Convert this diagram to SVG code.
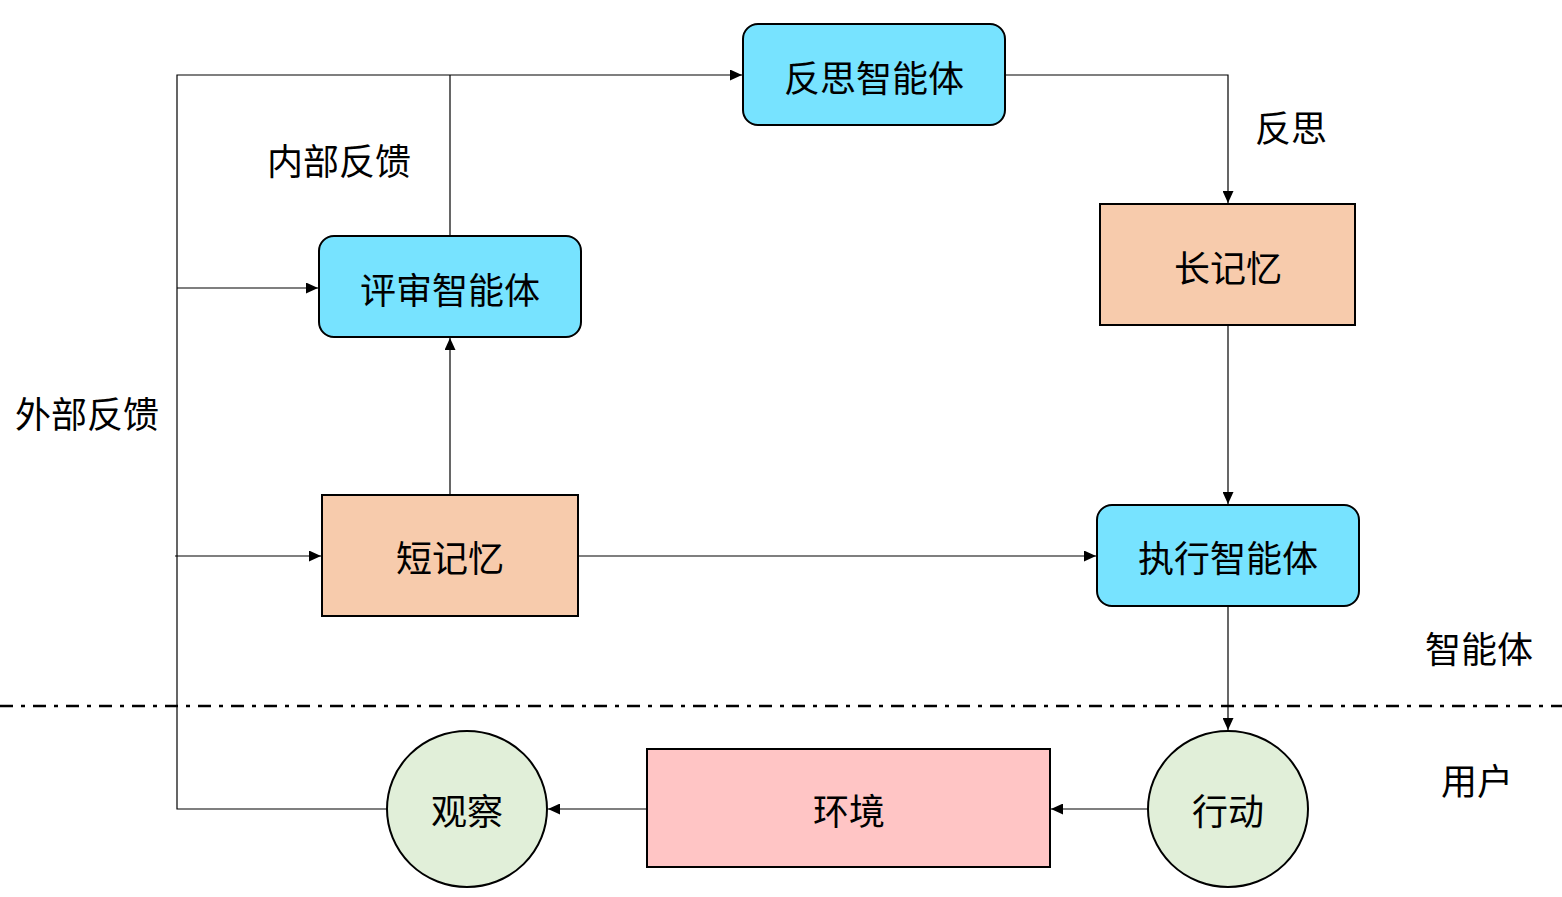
<svg xmlns="http://www.w3.org/2000/svg" width="1562" height="897" viewBox="0 0 1562 897">
<style>
text{font-family:"Noto Sans CJK SC","Noto Sans",sans-serif;font-size:36px;fill:#000;text-anchor:middle;dominant-baseline:central}
.agent{fill:#77e3ff;stroke:#000;stroke-width:2}
.mem{fill:#f7cbac;stroke:#000;stroke-width:2}
.env{fill:#ffc5c5;stroke:#000;stroke-width:2}
.circ{fill:#e1efd9;stroke:#000;stroke-width:2}
.ln{fill:none;stroke:#000;stroke-width:1.2}
</style>
<defs>
<marker id="arr" markerUnits="userSpaceOnUse" markerWidth="13" markerHeight="11" refX="12" refY="5.5" orient="auto">
<path d="M0,0 L12,5.5 L0,11 Z" fill="#000"/>
</marker>
</defs>
<rect width="1562" height="897" fill="#fff"/>
<line x1="0" y1="706" x2="1562" y2="706" stroke="#000" stroke-width="2.5" stroke-dasharray="13,8,4,8"/>
<g id="connectors">
<polyline class="ln" points="387,809 177,809 177,75 742,75" marker-end="url(#arr)"/>
<line class="ln" x1="450" y1="236" x2="450" y2="75"/>
<line class="ln" x1="177" y1="288" x2="318" y2="288" marker-end="url(#arr)"/>
<line class="ln" x1="175" y1="556" x2="321" y2="556" marker-end="url(#arr)"/>
<line class="ln" x1="450" y1="495" x2="450" y2="338" marker-end="url(#arr)"/>
<line class="ln" x1="578" y1="556" x2="1096" y2="556" marker-end="url(#arr)"/>
<polyline class="ln" points="1005,75 1228,75 1228,203" marker-end="url(#arr)"/>
<line class="ln" x1="1228" y1="325" x2="1228" y2="504" marker-end="url(#arr)"/>
<line class="ln" x1="1228" y1="606" x2="1228" y2="730" marker-end="url(#arr)"/>
<line class="ln" x1="1148" y1="809" x2="1051" y2="809" marker-end="url(#arr)"/>
<line class="ln" x1="647" y1="809" x2="548" y2="809" marker-end="url(#arr)"/>
</g>
<g id="reflect"><rect class="agent" x="743" y="24" width="262" height="101" rx="15"/><text x="874" y="76">反思智能体</text></g>
<g id="critic"><rect class="agent" x="319" y="236" width="262" height="101" rx="15"/><text x="450" y="288">评审智能体</text></g>
<g id="executor"><rect class="agent" x="1097" y="505" width="262" height="101" rx="15"/><text x="1228" y="556">执行智能体</text></g>
<g id="longmem"><rect class="mem" x="1100" y="204" width="255" height="121"/><text x="1228" y="266">长记忆</text></g>
<g id="shortmem"><rect class="mem" x="322" y="495" width="256" height="121"/><text x="450" y="556">短记忆</text></g>
<g id="env"><rect class="env" x="647" y="749" width="403" height="118"/><text x="849" y="809">环境</text></g>
<g id="observe"><ellipse class="circ" cx="467" cy="809" rx="80" ry="78"/><text x="467" y="809">观察</text></g>
<g id="action"><ellipse class="circ" cx="1228" cy="809" rx="80" ry="78"/><text x="1228" y="809">行动</text></g>
<g id="labels">
<text x="87" y="412">外部反馈</text>
<text x="339" y="159">内部反馈</text>
<text x="1291" y="126">反思</text>
<text x="1479" y="647">智能体</text>
<text x="1477" y="779">用户</text>
</g>
</svg>
